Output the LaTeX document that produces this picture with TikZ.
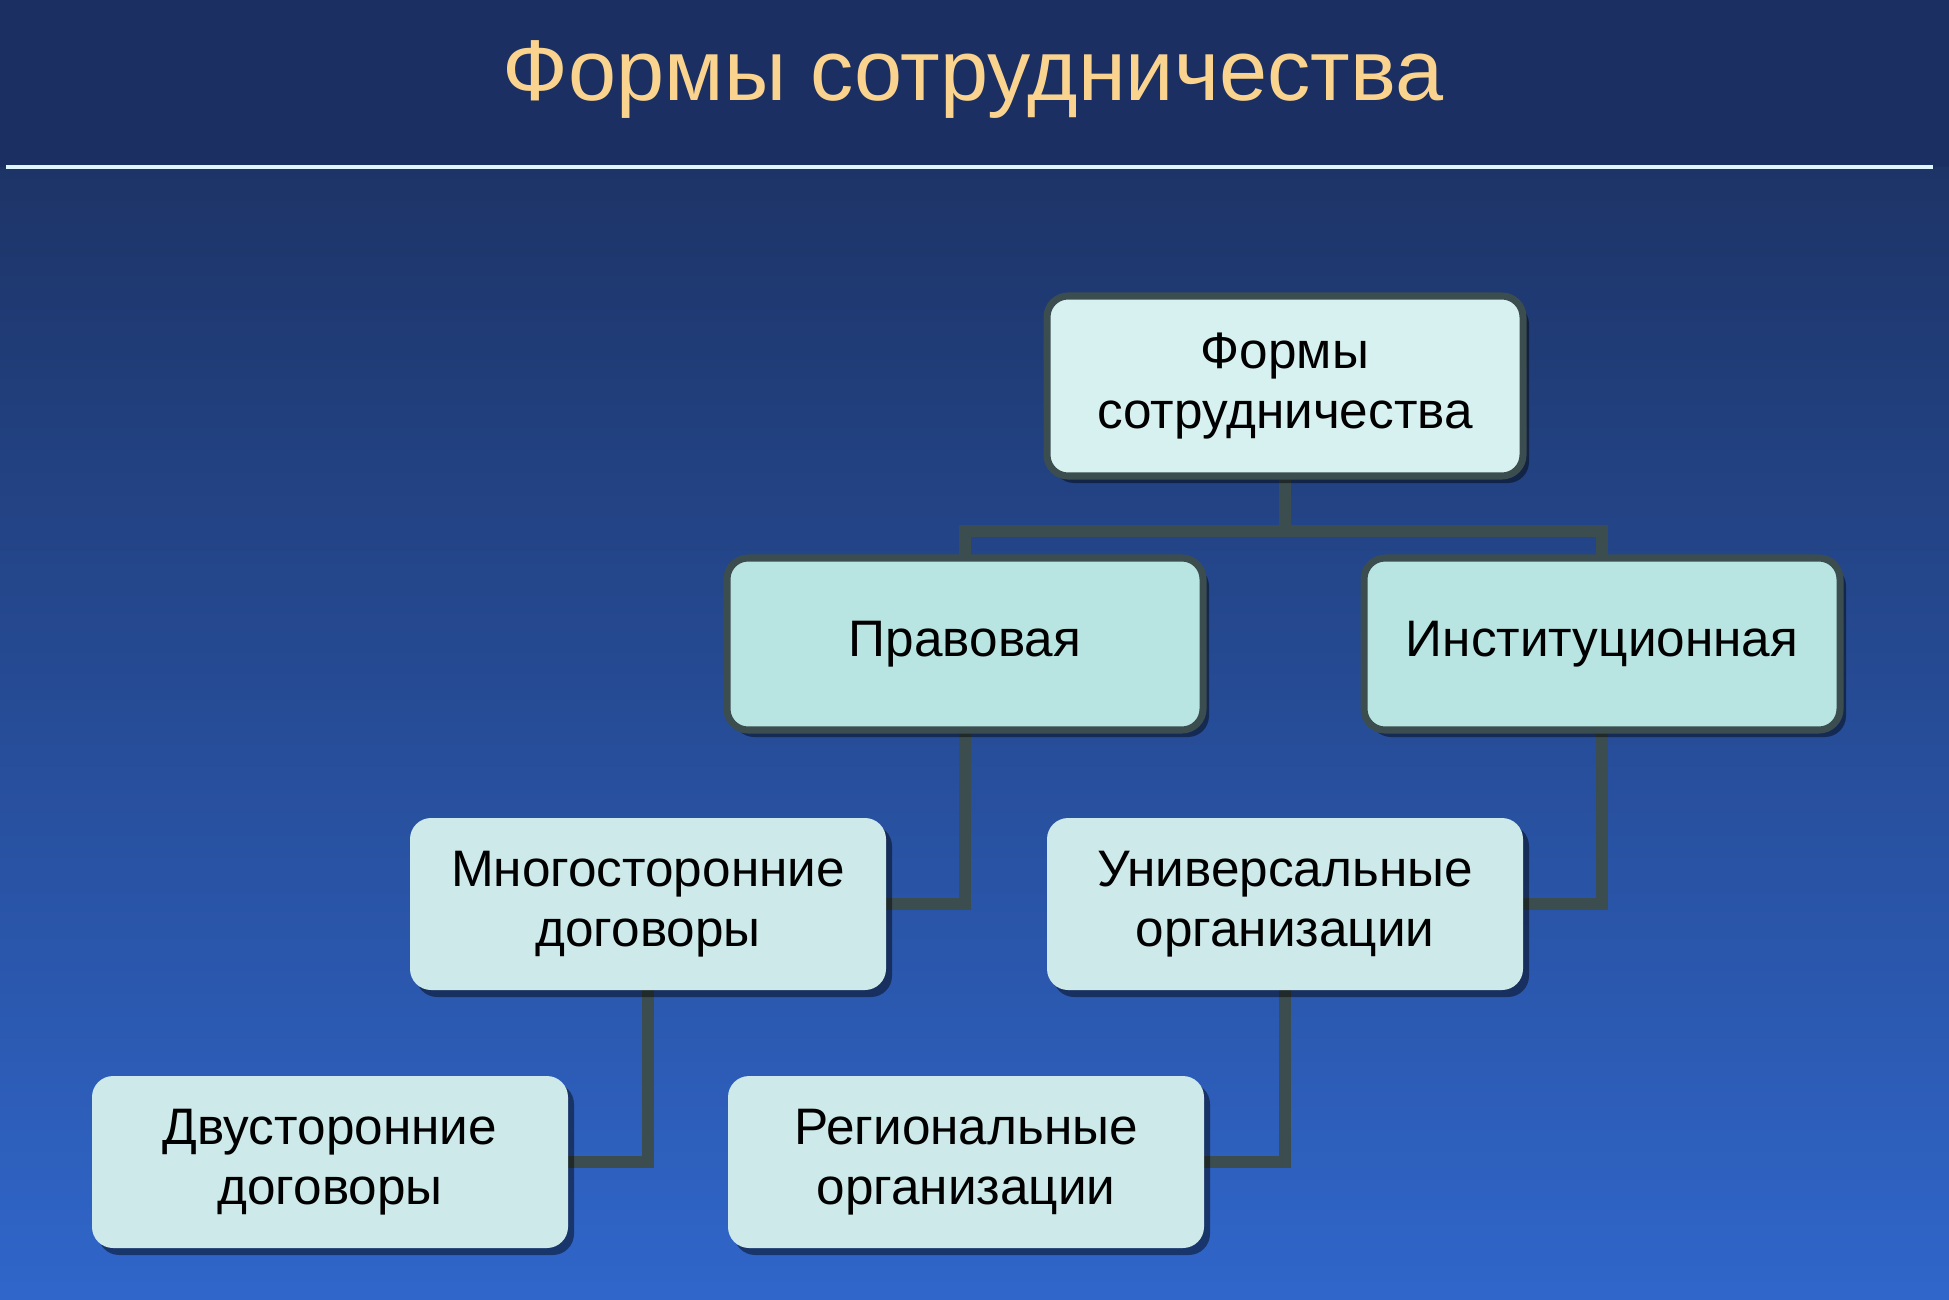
\documentclass[tikz,border=0pt]{standalone}
\usepackage{fontspec}
\setmainfont{Liberation Sans}
\usetikzlibrary{positioning, backgrounds, shadows}

\definecolor{bgdark}{HTML}{1B2F62}
\definecolor{bgmid}{HTML}{1D3467}
\definecolor{bglow}{HTML}{3066CA}
\definecolor{ttlcol}{HTML}{FAD48E}
\definecolor{edgecol}{HTML}{3C4D50}
\definecolor{rtfill}{HTML}{D6F1EF}
\definecolor{brfill}{HTML}{B8E4E2}
\definecolor{lffill}{HTML}{CDE9EA}

\begin{document}
\begin{tikzpicture}[
  every node/.append style={inner sep=2pt, outer sep=0pt},
  shd/.style={drop shadow={shadow xshift=0.06cm, shadow yshift=-0.07cm, fill=black, opacity=0.45}},
  rt/.style={draw=edgecol, line width=2pt, rounded corners=6pt, fill=rtfill, shd, minimum width=4.76cm, minimum height=1.80cm, align=center, font=\fontsize{14.6}{17.2}\selectfont},
  br/.style={draw=edgecol, line width=2pt, rounded corners=6pt, fill=brfill, shd, minimum width=4.76cm, minimum height=1.72cm, align=center, font=\fontsize{14.6}{17.2}\selectfont},
  lf/.style={rounded corners=6pt, fill=lffill, shd, minimum width=4.76cm, minimum height=1.72cm, align=center, font=\fontsize{14.6}{17.2}\selectfont},
  lnk/.style={draw=edgecol, line width=0.12cm},
  ttl/.style={text=ttlcol, font=\fontsize{24.6}{28}\selectfont, anchor=base},
]
\useasboundingbox (0,0) rectangle (19.49,-12.99);

%% ─── background and title ───────────────────────────────────────────────
\begin{scope}[on background layer]
\fill[bgdark] (0,0) rectangle (19.49,-1.67);
\shade[top color=bgmid, bottom color=bglow] (0,-1.67) rectangle (19.49,-12.99);
\end{scope}
\node[ttl] (title) at (9.73,-1.00) {Формы сотрудничества};
\draw[white!88!cyan, line width=0.045cm] (0.06,-1.67) -- (19.33,-1.67);

%% ─── level 1 and 2 ─────────────────────────────────────────────────────
\node[rt] (forms) at (12.85,-3.86) {Формы\\сотрудничества};
\node[br] (prav)  at (9.65,-6.44)  {Правовая};
\node[br] (inst)  at (16.02,-6.44) {Институционная};
\coordinate (bus) at (12.85,-5.31);

%% ─── level 3 and 4 ─────────────────────────────────────────────────────
\node[lf] (multi) at (6.48,-9.04)  {Многосторонние\\договоры};
\node[lf] (univ)  at (12.85,-9.04) {Универсальные\\организации};
\node[lf] (bila)  at (3.30,-11.62) {Двусторонние\\договоры};
\node[lf] (regn)  at (9.66,-11.62) {Региональные\\организации};

%% ─── connectors ────────────────────────────────────────────────────────
\begin{scope}[on background layer]
\draw[lnk] (forms.south) -- (bus);
\draw[lnk] (prav.north) |- (bus) -| (inst.north);
\draw[lnk] (prav.south) |- (multi.east);
\draw[lnk] (inst.south) |- (univ.east);
\draw[lnk] (multi.south) |- (bila.east);
\draw[lnk] (univ.south) |- (regn.east);
\end{scope}

\end{tikzpicture}
\end{document}
